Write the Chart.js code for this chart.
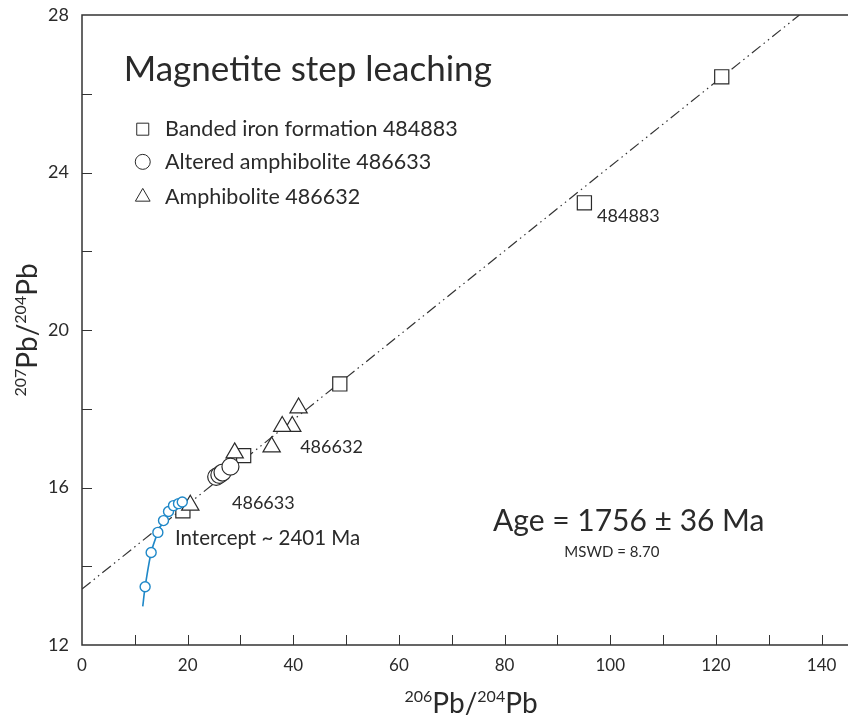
<!DOCTYPE html>
<html><head><meta charset="utf-8">
<script src="https://cdn.jsdelivr.net/npm/chart.js@4/dist/chart.umd.min.js"></script>
<style>html,body{margin:0;padding:0;background:#fff}#wrap{width:849px;height:720px;position:relative}</style>
</head><body><div id="wrap"><canvas id="c"></canvas></div>
<script>
// ---- data ----
const bifX  = [121.1, 95.1, 48.8, 30.6, 19.1];
const bifY  = [26.43, 23.23, 18.63, 16.81, 15.41];
const altX  = [25.4, 26.0, 26.6, 28.1];
const altY  = [16.27, 16.32, 16.38, 16.53];
const amphX = [41.0, 39.8, 37.9, 35.9, 28.9, 20.5];
const amphY = [18.02, 17.55, 17.55, 17.03, 16.88, 15.55];
const curveX = [11.5, 11.95, 13.09, 14.36, 15.43, 16.38, 17.32, 18.27, 18.98];
const curveY = [12.98, 13.48, 14.35, 14.86, 15.16, 15.39, 15.54, 15.59, 15.63];
const regX = [0, 135.8];
const regY = [13.42, 28.0];
const xMin = 0, xMax = 145, xStep = 20, xMinor = 10;
const yMin = 12, yMax = 28, yStep = 4, yMinor = 2;
const legendNames = ['Banded iron formation 484883', 'Altered amphibolite 486633', 'Amphibolite 486632'];
const legendStyles = ['rect', 'circle', 'triangle'];

const FONT = 'Lato, "Noto Sans", sans-serif';
const INK = '#2a2a2a';
const BLUE = '#1f88c8';

const toPts = (xs, ys) => xs.map((v, i) => ({x: v, y: ys[i]}));

// text annotations (data coordinates)
const notes = [
  {t: 'Magnetite step leaching', x: 7.9, y: 26.62, size: 35},
  {t: '484883', x: 97.5, y: 22.9, size: 18},
  {t: '486632', x: 41.3, y: 17.03, size: 18},
  {t: '486633', x: 28.4, y: 15.61, size: 18},
  {t: 'Intercept ~ 2401 Ma', x: 17.6, y: 14.72, size: 20.5},
  {t: 'Age = 1756 \u00b1 36 Ma', x: 77.8, y: 15.15, size: 30},
  {t: 'MSWD = 8.70', x: 100.3, y: 14.36, size: 15, align: 'center'}
];
const legendPos = {markX: 11.5, textX: 15.7, ys: [25.1, 24.27, 23.38]};

const framePlugin = {
  id: 'frame',
  beforeDatasetsDraw(chart) {
    const {ctx, chartArea: a, scales: {x, y}} = chart;
    ctx.save();
    ctx.strokeStyle = '#333';
    ctx.lineWidth = 1.5;
    ctx.beginPath();
    ctx.moveTo(a.right, a.top); ctx.lineTo(a.left, a.top);
    ctx.lineTo(a.left, a.bottom); ctx.lineTo(a.right, a.bottom);
    ctx.stroke();
    ctx.lineWidth = 1;
    ctx.beginPath();
    for (let v = xMin + xMinor; v < xMax; v += xMinor) {
      const p = Math.round(x.getPixelForValue(v)) + 0.5;
      ctx.moveTo(p, a.bottom); ctx.lineTo(p, a.bottom - 10);
    }
    for (let v = yMin + yMinor; v < yMax; v += yMinor) {
      const p = Math.round(y.getPixelForValue(v)) + 0.5;
      ctx.moveTo(a.left, p); ctx.lineTo(a.left + 10, p);
    }
    ctx.stroke();
    ctx.restore();
  },
  afterDraw(chart) {
    const {ctx, chartArea: a, scales: {x, y}} = chart;
    ctx.save();
    ctx.fillStyle = INK;
    ctx.textBaseline = 'middle';
    for (const n of notes) {
      ctx.font = n.size + 'px ' + FONT;
      ctx.textAlign = n.align || 'left';
      ctx.fillText(n.t, x.getPixelForValue(n.x), y.getPixelForValue(n.y));
    }
    // legend
    legendNames.forEach((name, i) => {
      const py = y.getPixelForValue(legendPos.ys[i]);
      const px = x.getPixelForValue(legendPos.markX);
      ctx.strokeStyle = INK; ctx.fillStyle = '#fff';
      Chart.helpers.drawPoint(ctx, {pointStyle: legendStyles[i], radius: i === 1 ? 7.5 : 8.5, borderWidth: 1.2}, px, py);
      ctx.fillStyle = INK;
      ctx.font = '21.5px ' + FONT;
      ctx.textAlign = 'left';
      ctx.textBaseline = 'middle';
      ctx.fillText(name, x.getPixelForValue(legendPos.textX), py);
    });
    // axis titles with superscripts
    const renderTitle = (parts, cx, cy) => {
      let w = 0;
      parts.forEach(p => { ctx.font = p[1] + 'px ' + FONT; w += ctx.measureText(p[0]).width; });
      let sx = cx - w / 2;
      ctx.textAlign = 'left'; ctx.textBaseline = 'alphabetic';
      parts.forEach(p => { ctx.font = p[1] + 'px ' + FONT; ctx.fillText(p[0], sx, cy + p[2]); sx += ctx.measureText(p[0]).width; });
    };
    const xParts = [['206', 16, -11], ['Pb', 28, 0], ['/', 28, 0], ['204', 16, -11], ['Pb', 28, 0]];
    const yParts = [['207', 16, -11], ['Pb', 28, 0], ['/', 28, 0], ['204', 16, -11], ['Pb', 28, 0]];
    renderTitle(xParts, 471, 713);
    ctx.save();
    ctx.translate(37, 330);
    ctx.rotate(-Math.PI / 2);
    renderTitle(yParts, 0, 0);
    ctx.restore();
    ctx.restore();
  }
};

new Chart(document.getElementById('c'), {
  type: 'scatter',
  data: {
    datasets: [
      {label: 'curve', type: 'line', data: toPts(curveX, curveY), borderColor: BLUE, backgroundColor: '#fff',
       borderWidth: 1.6, pointRadius: curveX.map((v, i) => i === 0 ? 0 : 5), pointBorderWidth: 1.4,
       pointBorderColor: BLUE, pointBackgroundColor: '#fff', tension: 0.2, order: 1},
      {label: 'Altered amphibolite 486633', data: toPts(altX, altY), pointStyle: 'circle', pointRadius: 8.5,
       borderColor: INK, backgroundColor: '#fff', borderWidth: 1.2, order: 2},
      {label: 'Amphibolite 486632', data: toPts(amphX, amphY), pointStyle: 'triangle', pointRadius: 10,
       borderColor: INK, backgroundColor: '#fff', borderWidth: 1.2, order: 3},
      {label: 'Banded iron formation 484883', data: toPts(bifX, bifY), pointStyle: 'rect', pointRadius: 10,
       borderColor: INK, backgroundColor: '#fff', borderWidth: 1.2, order: 4},
      {label: 'isochron', type: 'line', data: toPts(regX, regY), borderColor: '#333', borderWidth: 1.2,
       borderDash: [11, 4, 1.5, 4, 1.5, 4], pointRadius: 0, fill: false, order: 5}
    ]
  },
  options: {
    responsive: true, maintainAspectRatio: false, animation: false,
    layout: {autoPadding: false, padding: {top: 15, right: 1, left: 0, bottom: 0}},
    plugins: {legend: {display: false}, tooltip: {enabled: false}},
    scales: {
      x: {type: 'linear', min: xMin, max: xMax,
          grid: {display: false, drawTicks: false}, border: {display: false},
          ticks: {stepSize: xStep, includeBounds: false, autoSkip: false, padding: 10, color: INK,
                  font: {family: FONT, size: 17}, maxRotation: 0},
          afterFit: s => { s.height = 75; s.paddingLeft = 0; s.paddingRight = 0; }},
      y: {type: 'linear', min: yMin, max: yMax,
          grid: {display: false, drawTicks: false}, border: {display: false},
          ticks: {stepSize: yStep, padding: 13, color: INK, font: {family: FONT, size: 18}},
          afterFit: s => { s.width = 82; s.paddingTop = 0; s.paddingBottom = 0; }}
    }
  },
  plugins: [framePlugin]
});
</script>
</body></html>
